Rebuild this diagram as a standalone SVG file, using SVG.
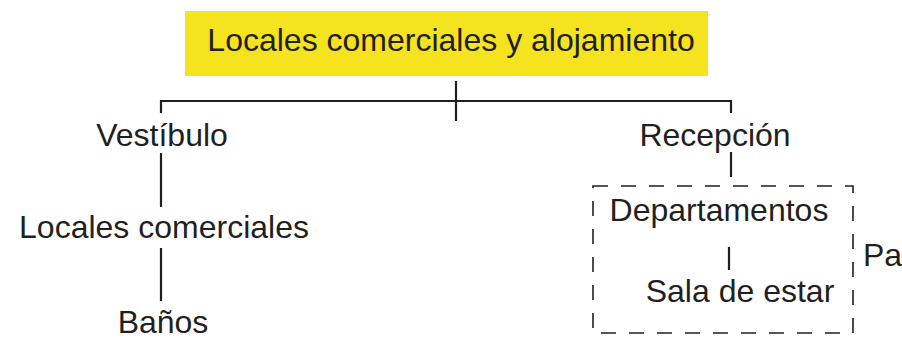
<svg xmlns="http://www.w3.org/2000/svg" width="902" height="340" viewBox="0 0 902 340">
<style>
text{font-family:"Liberation Sans",Arial,sans-serif;font-size:32px;fill:#231f20}
.ln{stroke:#231f20;stroke-width:2.2;fill:none}
.dash{stroke:#231f20;stroke-width:1.6;fill:none;stroke-dasharray:15 13}
</style>
<rect width="902" height="340" fill="#ffffff"/>
<g id="connectors">
<path class="ln" d="M161,113 V101 H731 V113"/>
<path class="ln" d="M456,81 V121"/>
<path class="ln" d="M161,153 V207"/>
<path class="ln" d="M161,248 V301"/>
<path class="ln" d="M731,152 V177"/>
<path class="ln" d="M729,247 V270"/>
</g>
<g id="root">
<rect x="185" y="11" width="523" height="65" fill="#f5e31f"/>
<text x="451" y="51" text-anchor="middle">Locales comerciales y alojamiento</text>
</g>
<g id="vestibulo"><text x="162" y="146" text-anchor="middle">Vestíbulo</text></g>
<g id="locales"><text x="164" y="238" text-anchor="middle">Locales comerciales</text></g>
<g id="banos"><text x="163" y="333" text-anchor="middle">Baños</text></g>
<g id="recepcion"><text x="715" y="146" text-anchor="middle">Recepción</text></g>
<g id="pa-group">
<rect class="dash" x="593" y="186" width="260" height="147"/>
</g>
<g id="departamentos"><text x="719" y="221" text-anchor="middle">Departamentos</text></g>
<g id="sala"><text x="740" y="302" text-anchor="middle">Sala de estar</text></g>
<g id="pa"><text x="863" y="266">Pa</text></g>
</svg>
